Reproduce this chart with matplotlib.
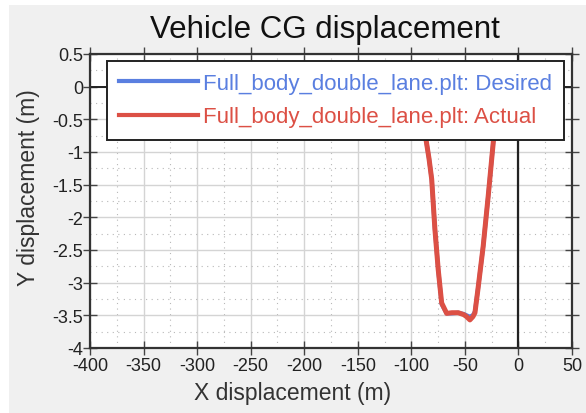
import matplotlib
matplotlib.use("Agg")
import matplotlib.pyplot as plt
from matplotlib.patches import Rectangle
from matplotlib.ticker import MultipleLocator

plt.rcParams['font.family'] = ['Liberation Sans', 'DejaVu Sans']

# Data
x_desired = [-93, -91, -89, -86.4, -83.5, -81.0, -78.0, -74.9, -71.7, -67.0, -62.0, -56.2, -51.0,
             -48.4, -45.6, -42.5, -40.6, -37.5, -32.9, -28.2, -23.5, -21, -19]
y_desired = [0.0, -0.3, -0.55, -0.80, -1.10, -1.415, -2.18, -2.80, -3.33, -3.47, -3.47, -3.46, -3.48,
             -3.50, -3.52, -3.50, -3.44, -3.06, -2.44, -1.67, -0.85, -0.45, 0.0]
x_actual = [-93, -91, -89, -86.4, -83.5, -81.0, -78.0, -74.9, -71.7, -67.0, -62.0, -56.2, -51.0,
            -48.4, -45.3, -42.5, -40.6, -37.5, -32.9, -28.2, -23.5, -21, -19]
y_actual = [0.0, -0.3, -0.55, -0.80, -1.10, -1.415, -2.18, -2.80, -3.31, -3.47, -3.46, -3.46, -3.49,
            -3.52, -3.57, -3.52, -3.46, -3.06, -2.44, -1.67, -0.85, -0.45, 0.0]

xticks = [-400, -350, -300, -250, -200, -150, -100, -50, 0, 50]
yticks = [0.5, 0, -0.5, -1, -1.5, -2, -2.5, -3, -3.5, -4]
ytick_labels = ['0.5', '0', '-0.5', '-1', '-1.5', '-2', '-2.5', '-3', '-3.5', '-4']

labels = ["Full_body_double_lane.plt: Desired", "Full_body_double_lane.plt: Actual"]
title = "Vehicle CG displacement"
xlabel = "X displacement (m)"
ylabel = "Y displacement (m)"

W, H = 586, 414
fig = plt.figure(figsize=(W / 100, H / 100), dpi=100, facecolor='white')
fig.patches.append(Rectangle((9 / W, 0), 1 - 9 / W, 1 - 6 / H, transform=fig.transFigure,
                             facecolor='#f0f0f0', edgecolor='none', zorder=-10))

ax_l, ax_r, ax_t, ax_b = 90, 572, 55, 349
ax = fig.add_axes([ax_l / W, 1 - ax_b / H, (ax_r - ax_l) / W, (ax_b - ax_t) / H])
ax.set_facecolor('white')

blue = '#5a7fe0'
red = '#dc5045'
l1, = ax.plot(x_desired, y_desired, color=blue, lw=3.0, zorder=3)
l2, = ax.plot(x_actual, y_actual, color=red, lw=3.6, zorder=4)

ax.set_xlim(-400, 50)
ax.set_ylim(-4, 0.5)
ax.set_xticks(xticks)
ax.set_xticklabels([str(v) for v in xticks])
ax.set_yticks(yticks)
ax.set_yticklabels(ytick_labels)
ax.xaxis.set_minor_locator(MultipleLocator(25))
ax.yaxis.set_minor_locator(MultipleLocator(0.25))

ax.grid(which='major', color='#d4d4d4', lw=1.0, zorder=0)
ax.grid(which='minor', color='#b8b8b8', lw=0.8, linestyle=(0, (1, 4)), zorder=0)
ax.axhline(0, color='#222222', lw=1.4, zorder=2)
ax.axvline(0, color='#222222', lw=1.6, zorder=2)

for s in ax.spines.values():
    s.set_color('#333333')
    s.set_linewidth(1.6)

ax.tick_params(which='major', direction='inout', length=10, width=1, color='#444444',
               labelsize=13, pad=0, top=True, right=True, labelcolor='#222222')
ax.tick_params(axis='x', which='major', pad=1.5)
ax.tick_params(which='minor', length=0)

fig.text(325 / W, 1 - 30 / H, title, fontsize=22.5, ha='center', va='center', color='#111111')
ax.set_xlabel(xlabel, fontsize=16.5, color='#333333')
ax.set_ylabel(ylabel, fontsize=16.5, color='#333333')
ax.xaxis.set_label_coords((293 - ax_l) / (ax_r - ax_l), -(394 - ax_b) / (ax_b - ax_t),
                          transform=ax.transAxes)
ax.yaxis.set_label_coords(-(ax_l - 29) / (ax_r - ax_l), (ax_b - 188) / (ax_b - ax_t),
                          transform=ax.transAxes)
ax.xaxis.label.set_va('center')
ax.yaxis.label.set_va('center')

leg = ax.legend([l1, l2], labels, loc='upper left',
                bbox_to_anchor=(107 / W, 1 - 62 / H), bbox_transform=fig.transFigure,
                borderaxespad=0, fontsize=16.0, handlelength=3.55, handletextpad=0.2,
                labelspacing=0.55, fancybox=False, framealpha=1, edgecolor='#222222',
                borderpad=0.55)
leg.get_frame().set_linewidth(1.4)
leg.set_zorder(10)
for t, c in zip(leg.get_texts(), [blue, red]):
    t.set_color(c)
for h in leg.legend_handles:
    h.set_linewidth(3)

fig.savefig('out.png', dpi=100, facecolor=fig.get_facecolor())
